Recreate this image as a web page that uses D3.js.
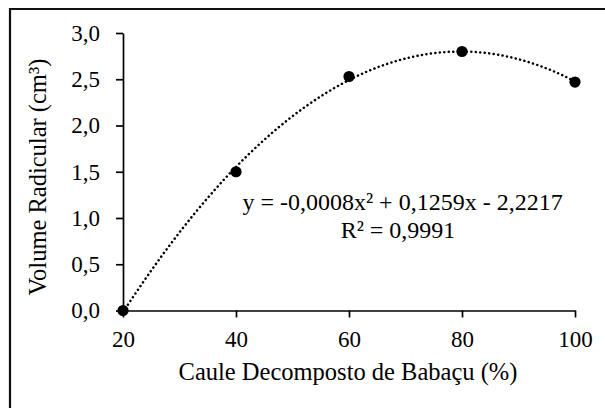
<!DOCTYPE html>
<html><head><meta charset="utf-8">
<script src="https://cdn.jsdelivr.net/npm/d3@7"></script>
<style>html,body{margin:0;padding:0;background:#fff;}svg{display:block;}</style>
</head><body>
<svg id="c" width="605" height="408"></svg>
<script>
const xValues = [20, 40, 60, 80, 100];
const yValues = [0, 1.5, 2.53, 2.8, 2.47];
const xTicks = [20, 40, 60, 80, 100];
const yTicks = [0, 0.5, 1.0, 1.5, 2.0, 2.5, 3.0];
const xTitle = "Caule Decomposto de Babaçu (%)";
const yTitle = "Volume Radicular (cm³)";
const eqText = "y = -0,0008x² + 0,1259x - 2,2217";
const r2Text = "R² = 0,9991";

const svg = d3.select("#c");
const font = "'Liberation Serif', 'Times New Roman', serif";
const fmt = d => d3.format(".1f")(d).replace(".", ",");

const x = d3.scaleLinear().domain([20, 100]).range([123, 575]);
const y = d3.scaleLinear().domain([0, 3]).range([310.5, 33]);

// frame (only top/left visible)
svg.append("path").attr("d", "M10,408 V9 H605").attr("fill", "none").attr("stroke", "#111").attr("stroke-width", 2.2);

// quadratic least-squares fit (trendline)
function quadFit(xs, ys) {
  let S = Array(5).fill(0), T = Array(3).fill(0);
  xs.forEach((xi, i) => { for (let k = 0; k < 5; k++) S[k] += Math.pow(xi, k); for (let k = 0; k < 3; k++) T[k] += ys[i] * Math.pow(xi, k); });
  const A = [[S[0], S[1], S[2], T[0]], [S[1], S[2], S[3], T[1]], [S[2], S[3], S[4], T[2]]];
  for (let i = 0; i < 3; i++) {
    for (let j = i + 1; j < 3; j++) { const f = A[j][i] / A[i][i]; for (let k = i; k < 4; k++) A[j][k] -= f * A[i][k]; }
  }
  const c = [0, 0, 0];
  for (let i = 2; i >= 0; i--) { let s = A[i][3]; for (let k = i + 1; k < 3; k++) s -= A[i][k] * c[k]; c[i] = s / A[i][i]; }
  return c;
}
const coef = quadFit(xValues, yValues);
const curve = d3.range(20, 100.01, 0.5).map(v => [v, coef[0] + coef[1] * v + coef[2] * v * v]);
svg.append("path").datum(curve)
  .attr("d", d3.line().x(d => x(d[0])).y(d => y(d[1])))
  .attr("fill", "none").attr("stroke", "#000").attr("stroke-width", 2.5)
  .attr("stroke-linecap", "round").attr("stroke-dasharray", "0.1 4.4");

// axes
const xAxis = svg.append("g").attr("transform", "translate(0,310.5)")
  .call(d3.axisBottom(x).tickValues(xTicks).tickSize(7).tickSizeOuter(0).tickFormat(d3.format("d")));
const yAxis = svg.append("g").attr("transform", "translate(123,0)")
  .call(d3.axisLeft(y).tickValues(yTicks).tickSize(7).tickSizeOuter(0).tickPadding(16).tickFormat(fmt));
[xAxis, yAxis].forEach(g => {
  g.select(".domain").attr("stroke", "#000").attr("stroke-width", 1.7);
  g.selectAll(".tick line").attr("stroke", "#000").attr("stroke-width", 1.7);
  g.selectAll("text").attr("font-family", font).attr("font-size", 23).attr("fill", "#000");
});
xAxis.selectAll("text").attr("y", 36.5).attr("dy", 0);

// points
svg.append("g").selectAll("circle").data(xValues).join("circle")
  .attr("cx", (d) => x(d)).attr("cy", (d, i) => y(yValues[i])).attr("r", 5.6).attr("fill", "#000");

// titles
svg.append("text").attr("x", 348).attr("y", 380).attr("text-anchor", "middle")
  .attr("font-family", font).attr("font-size", 24.5).text(xTitle);
svg.append("text").attr("transform", "translate(46,177) rotate(-90)").attr("text-anchor", "middle")
  .attr("font-family", font).attr("font-size", 24.5).text(yTitle);

// equation
svg.append("text").attr("x", 402.5).attr("y", 210).attr("text-anchor", "middle")
  .attr("font-family", font).attr("font-size", 24).text(eqText);
svg.append("text").attr("x", 398).attr("y", 238).attr("text-anchor", "middle")
  .attr("font-family", font).attr("font-size", 24).text(r2Text);
</script>
</body></html>
